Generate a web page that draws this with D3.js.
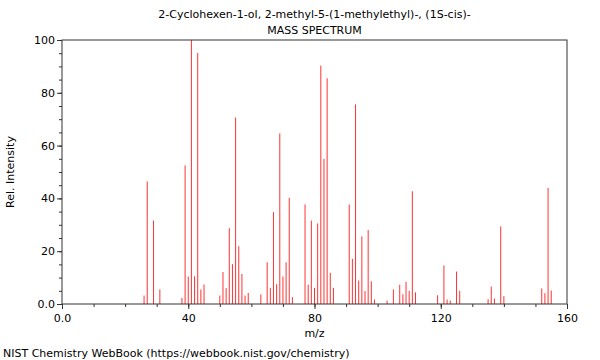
<!DOCTYPE html>
<html>
<head>
<meta charset="utf-8">
<script src="https://cdn.jsdelivr.net/npm/d3@7"></script>
<style>
  body { margin: 0; background: #fff; }
  svg { display: block; font-family: "DejaVu Sans", sans-serif; }
</style>
</head>
<body>
<svg id="chart"></svg>
<script>
// peaks
const mz = [26, 27, 29, 31, 38, 39, 40, 41, 42, 43, 44, 45,
  50, 51, 52, 53, 54, 55, 56, 57, 58, 59, 63,
  65, 66, 67, 68, 69, 70, 71, 72, 73, 77, 78, 79, 80, 81, 82,
  83, 84, 85, 86, 91, 92, 93, 94, 95, 96, 97, 98, 99,
  103, 105, 107, 108, 109, 110, 111, 112, 119,
  121, 122, 123, 125, 126, 135, 136, 137, 139, 140,
  152, 153, 154, 155];
const intensity = [3.2, 46.4, 31.6, 5.5, 2.3, 52.5, 10.4, 100, 10.5, 95.1, 5.5, 7.4,
  3.2, 12.1, 6.0, 28.7, 15.1, 70.6, 21.9, 11.4, 3.2, 4.2, 3.6,
  15.8, 6.1, 34.8, 7.5, 64.6, 10.4, 15.8, 40.2, 2.6, 37.7, 7.3, 31.6, 6.1, 30.5, 90.3,
  55.0, 85.5, 11.8, 6.1, 37.7, 17.1, 75.6, 8.9, 25.6, 4.9, 28.0, 8.6, 1.7,
  1.3, 5.5, 7.3, 3.7, 8.4, 5.0, 42.7, 4.4, 3.3,
  14.6, 1.7, 1.3, 12.3, 5.0, 1.8, 6.6, 2.1, 29.4, 3.0,
  5.9, 4.1, 44.0, 5.1];
const xTicks = [0, 40, 80, 120, 160];
const yTicks = [0, 20, 40, 60, 80, 100];
const titleLines = ["2-Cyclohexen-1-ol, 2-methyl-5-(1-methylethyl)-, (1S-cis)-", "MASS SPECTRUM"];

const width = 600, height = 360;
const margin = {top: 40, right: 33, bottom: 56, left: 62};
const innerW = width - margin.left - margin.right;
const innerH = height - margin.top - margin.bottom;

const svg = d3.select("#chart").attr("width", width).attr("height", height);

const x = d3.scaleLinear().domain([0, 160]).range([margin.left, margin.left + innerW]);
const y = d3.scaleLinear().domain([0, 100]).range([margin.top + innerH, margin.top]);

const fmt = d => d === 0 ? "0.0" : String(d);

// minor ticks
svg.append("g")
  .attr("transform", `translate(0,${margin.top + innerH})`)
  .call(d3.axisBottom(x).tickValues(d3.range(0, 161, 10)).tickSize(3).tickFormat(""))
  .call(g => g.select(".domain").remove())
  .call(g => g.selectAll("line").attr("stroke", "#333"));
svg.append("g")
  .attr("transform", `translate(${margin.left},0)`)
  .call(d3.axisLeft(y).tickValues(d3.range(0, 101, 5)).tickSize(3).tickFormat(""))
  .call(g => g.select(".domain").remove())
  .call(g => g.selectAll("line").attr("stroke", "#333"));

// major ticks
svg.append("g")
  .attr("transform", `translate(0,${margin.top + innerH})`)
  .call(d3.axisBottom(x).tickValues(xTicks).tickSize(5).tickPadding(5).tickFormat(fmt))
  .call(g => g.select(".domain").remove())
  .call(g => g.selectAll("line").attr("stroke", "#333"))
  .call(g => g.selectAll("text").attr("font-size", 11).attr("fill", "#000")
    .attr("font-family", "DejaVu Sans"));
svg.append("g")
  .attr("transform", `translate(${margin.left},0)`)
  .call(d3.axisLeft(y).tickValues(yTicks).tickSize(5).tickPadding(2).tickFormat(fmt))
  .call(g => g.select(".domain").remove())
  .call(g => g.selectAll("line").attr("stroke", "#333"))
  .call(g => g.selectAll("text").attr("font-size", 11).attr("fill", "#000")
    .attr("font-family", "DejaVu Sans"));

// peaks
svg.append("g")
  .selectAll("line")
  .data(mz)
  .join("line")
  .attr("x1", d => x(d))
  .attr("x2", d => x(d))
  .attr("y1", y(0))
  .attr("y2", (d, i) => y(intensity[i]))
  .attr("stroke", "#ff3333")
  .attr("stroke-width", 1);

// frame
svg.append("rect")
  .attr("x", margin.left)
  .attr("y", margin.top)
  .attr("width", innerW)
  .attr("height", innerH)
  .attr("fill", "none")
  .attr("stroke", "#333")
  .attr("stroke-width", 1);

// titles
svg.selectAll(".title")
  .data(titleLines)
  .join("text")
  .attr("class", "title")
  .attr("x", margin.left + innerW / 2)
  .attr("y", (d, i) => 18 + i * 16)
  .attr("text-anchor", "middle")
  .attr("font-size", 11)
  .text(d => d);

svg.append("text")
  .attr("x", margin.left + innerW / 2)
  .attr("y", 337)
  .attr("text-anchor", "middle")
  .attr("font-size", 11)
  .text("m/z");

svg.append("text")
  .attr("transform", `translate(14,${margin.top + innerH / 2}) rotate(-90)`)
  .attr("text-anchor", "middle")
  .attr("font-size", 11)
  .text("Rel. Intensity");

svg.append("text")
  .attr("x", 3)
  .attr("y", 357)
  .attr("font-size", 11)
  .text("NIST Chemistry WebBook (https://webbook.nist.gov/chemistry)");
</script>
</body>
</html>
